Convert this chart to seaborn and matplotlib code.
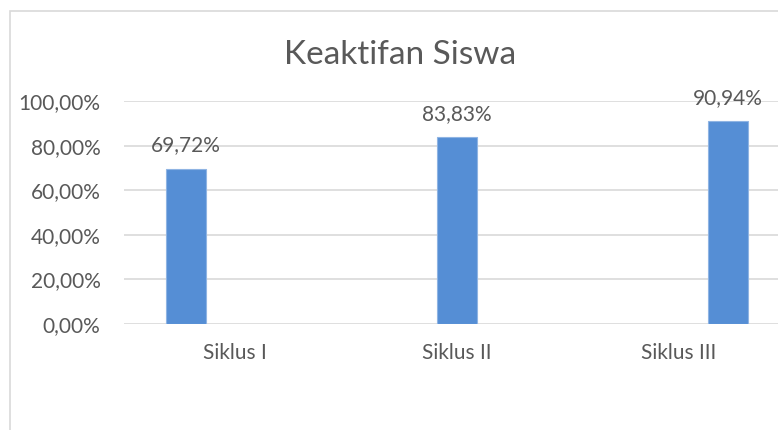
import pandas as pd
import matplotlib
matplotlib.use("Agg")
import matplotlib.pyplot as plt
import matplotlib.ticker as mticker
from matplotlib.patches import Rectangle
import seaborn as sns

# data
siklus = ["Siklus I", "Siklus II", "Siklus III"]
nilai = [0.6972, 0.8383, 0.9094]
judul = "Keaktifan Siswa"

df = pd.DataFrame({"siklus": siklus, "nilai": nilai, "seri": siklus})

sns.set_style("white")
plt.rcParams["font.family"] = ["Lato", "DejaVu Sans"]

abu = "#595959"
biru = "#558ed5"

fig = plt.figure(figsize=(7.78, 4.30), dpi=100)
ax = fig.add_axes([124/778, 106/430, 666/778, 223/430])

sns.barplot(data=df, x="siklus", y="nilai", hue="seri", order=siklus,
            hue_order=siklus, palette=[biru]*3, saturation=1, dodge=True,
            width=0.663, gap=0.2, legend=False, ax=ax, edgecolor="#8fb4e3",
            linewidth=0.8, zorder=3)

def persen(v):
    return f"{v*100:.2f}%".replace(".", ",")

for p in ax.patches:
    h = p.get_height()
    if h != h or h == 0:
        continue
    ax.annotate(persen(h), (p.get_x() + p.get_width()/2, h),
                xytext=(0, 12.5), textcoords="offset points",
                ha="center", va="baseline", fontsize=15, color=abu)

ax.set_ylim(0, 1.0)
ax.set_yticks([0, 0.2, 0.4, 0.6, 0.8, 1.0])
ax.yaxis.set_major_formatter(mticker.FuncFormatter(lambda v, pos: persen(v)))
ax.set_xlim(-0.5, 2.5)
ax.grid(axis="y", color="#d9d9d9", linewidth=1.2, zorder=0)
ax.set_axisbelow(True)
for s in ax.spines.values():
    s.set_visible(False)
ax.tick_params(axis="y", length=0, pad=17, labelsize=15, labelcolor=abu)
ax.tick_params(axis="x", length=0, pad=14, labelsize=15, labelcolor=abu)
ax.set_xlabel("")
ax.set_ylabel("")

fig.text(400/778, 1 - 55/430, judul, ha="center", va="center",
         fontsize=24, color=abu)

# chart frame (cropped on the right and bottom)
fig.add_artist(Rectangle((10/778, -0.2), 1.5, 1.2 - 11/430, fill=False,
                         edgecolor="#d9d9d9", linewidth=1.2,
                         transform=fig.transFigure))

fig.savefig("out.png", dpi=100)
